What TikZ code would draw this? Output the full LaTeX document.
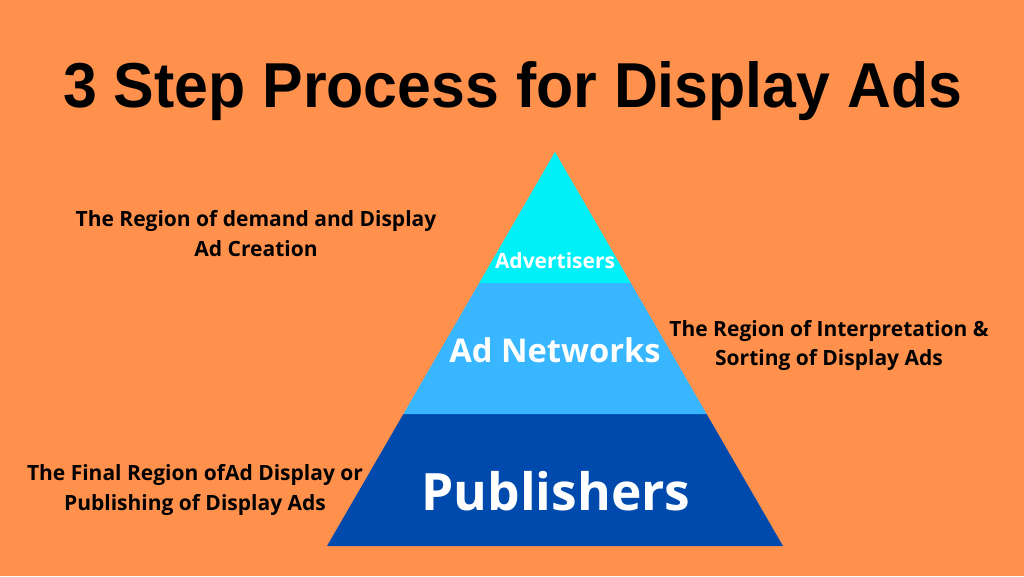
\documentclass[tikz,border=0pt]{standalone}
\usepackage{fontspec}
\setmainfont{Open Sans}
\newfontfamily\titlefont{Liberation Sans}
\definecolor{bg}{HTML}{FF914D}
\definecolor{toplayer}{HTML}{00F0F8}
\definecolor{midlayer}{HTML}{38B6FF}
\definecolor{botlayer}{HTML}{004AAD}
\newcommand{\twolines}[3]{\fontsize{21}{#1}\selectfont\begin{tabular}[t]{@{}c@{}}#2\\#3\end{tabular}}
\begin{document}
\begin{tikzpicture}[x=1pt,y=-1pt,
  sidelabel/.style={font=\bfseries, text=black, inner sep=0pt, anchor=base},
  tiertext/.style={text=white, inner sep=0pt, anchor=base}]
\fill[bg] (0,0) rectangle (1024,576);
\useasboundingbox (0,0) rectangle (1024,576);
% pyramid
\fill[botlayer] (327,546) -- (403.4,414) -- (706.6,414) -- (783,546) -- cycle;
\fill[midlayer] (403.4,414) -- (479.2,283) -- (630.8,283) -- (706.6,414) -- cycle;
\fill[toplayer] (479.2,283) -- (555,152) -- (630.8,283) -- cycle;
% title
\node[anchor=base west, inner sep=0pt] (title) at (63,107)
  {\resizebox{899pt}{46pt}{\titlefont\bfseries\fontsize{60}{60}\selectfont 3 Step Process for Display Ads}};
% tier texts
\node[tiertext, font=\bfseries\fontsize{21}{21}\selectfont] (adv) at (555,268) {Advertisers};
\node[tiertext, font=\bfseries\fontsize{32.7}{33}\selectfont] (net) at (555,362) {Ad Networks};
\node[tiertext, font=\bfseries\fontsize{51.5}{52}\selectfont] (pub) at (556,510) {Publishers};
% side labels
\node[sidelabel] (advlabel) at (256,226.5) {\twolines{30}{The Region of demand and Display}{Ad Creation}};
\node[sidelabel] (netlabel) at (829,336.5) {\twolines{28.5}{The Region of Interpretation \&}{Sorting of Display Ads}};
\node[sidelabel] (publabel) at (195,480) {\twolines{30}{The Final Region ofAd Display or}{Publishing of Display Ads}};
\end{tikzpicture}
\end{document}
